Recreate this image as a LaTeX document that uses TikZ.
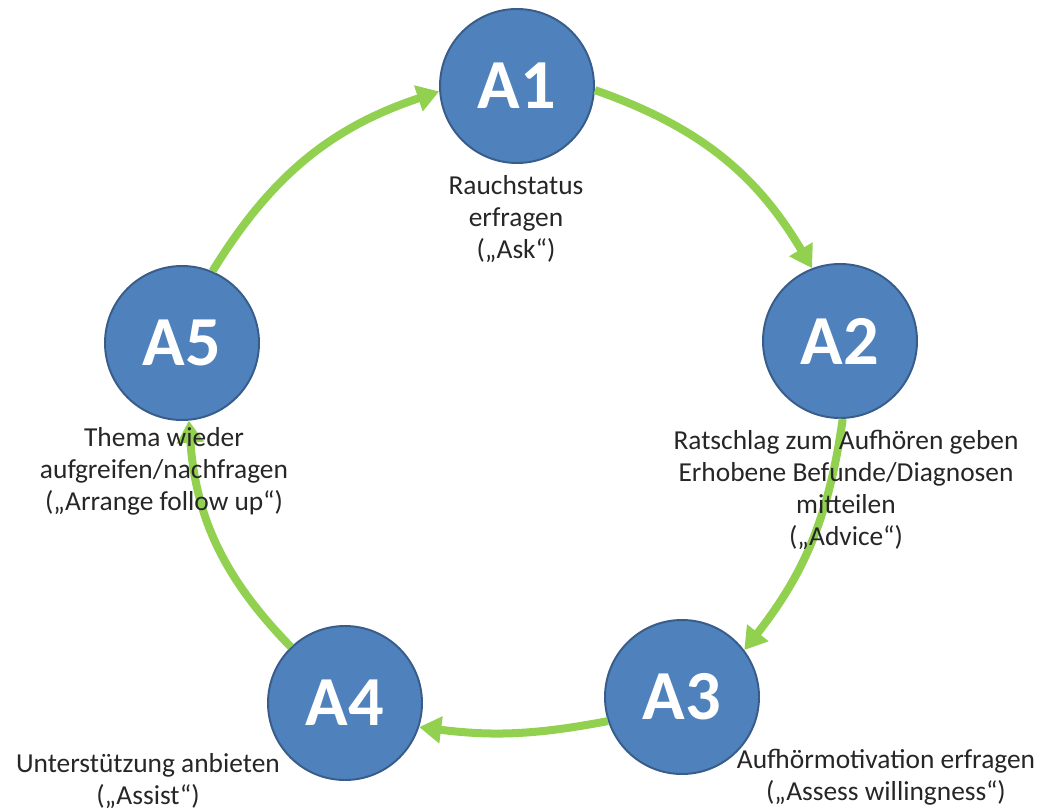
\documentclass[tikz,border=0pt]{standalone}
\usepackage{fontspec}
\setmainfont{Carlito}
\usetikzlibrary{arrows.meta}
\definecolor{kreisblau}{RGB}{79,129,189}
\definecolor{randblau}{RGB}{56,93,138}
\definecolor{pfeilgruen}{RGB}{146,208,80}

\begin{document}
\begin{tikzpicture}[
  schritt/.style={circle, fill=kreisblau, draw=randblau, line width=1.4pt,
    minimum size=3.85cm, inner sep=0pt, text=white,
    font=\fontsize{50pt}{50pt}\selectfont\bfseries},
  etikett/.style={align=center, text=black!85,
    font=\fontsize{19.5pt}{22.8pt}\selectfont},
  pfeil/.style={draw=pfeilgruen, line width=5.7pt,
    -{Triangle[length=0.55cm,width=0.65cm]}}
]
\useasboundingbox (0,0) rectangle (26.05,20.25);

% Kreise fuer die fuenf A
\node[schritt] (a1) at (12.925,18.1) {A1};
\node[schritt] (a2) at (21.0,11.725) {A2};
\node[schritt] (a3) at (17.05,2.825) {A3};
\node[schritt] (a4) at (8.625,2.675) {A4};
\node[schritt] (a5) at (4.55,11.675) {A5};

% Pfeile im Uhrzeigersinn
\draw[pfeil] (a5.67) to[bend left=20] (a1.184);
\draw[pfeil] (a1.357) to[bend left=20] (a2.111);
\draw[pfeil] (a2.272) to[bend left=15] (a3.37);
\draw[pfeil] (a3.198) to[bend left=9] (a4.342);
\draw[pfeil] (a4.134) to[bend left=20] (a5.275);

% Beschriftungen
\node[etikett] (t1) at (12.9,14.775) {Rauchstatus\\erfragen\\(„Ask“)};
\node[etikett] (t2) at (21.15,8.0) {Ratschlag zum Aufhören geben\\Erhobene Befunde/Diagnosen\\mitteilen\\(„Advice“)};
\node[etikett] (t3) at (22.15,0.81) {Aufhörmotivation erfragen\\(„Assess willingness“)};
\node[etikett] (t4) at (3.7,0.725) {Unterstützung anbieten\\(„Assist“)};
\node[etikett] (t5) at (4.1,8.475) {Thema wieder\\aufgreifen/nachfragen\\(„Arrange follow up“)};
\end{tikzpicture}
\end{document}
